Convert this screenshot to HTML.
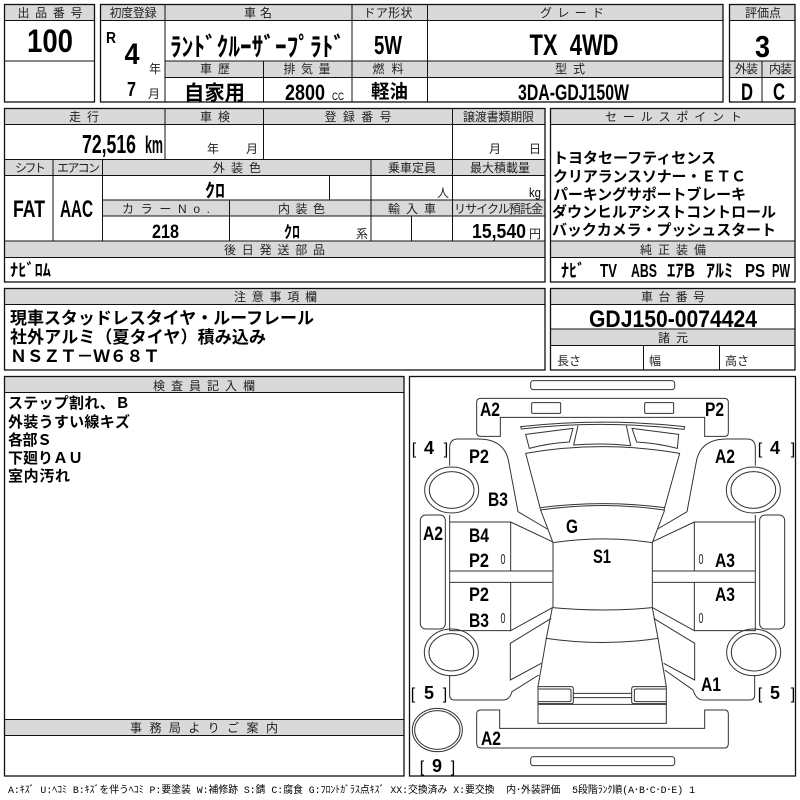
<!DOCTYPE html>
<html lang="ja"><head><meta charset="utf-8"><title>検査票</title>
<style>
html,body{margin:0;padding:0;background:#fff}
svg{display:block}
text{font-family:"Liberation Sans","Noto Sans CJK JP",sans-serif;fill:#000}
.h{font-size:12px;fill:#222;text-anchor:middle}
.c{text-anchor:middle;font-weight:700}
.b{font-weight:700}
.j{font-family:"Noto Sans CJK JP","Liberation Sans",sans-serif;font-weight:700}
.s{font-size:12px;fill:#222}
.l{font-size:19px;font-weight:700}
.t{font-size:15px;fill:#222}
.box{fill:none;stroke:#111;stroke-width:1.3}
.hd{fill:#d9d9d9}
.ln{stroke:#111;stroke-width:1;fill:none}
.car{fill:none;stroke:#333;stroke-width:3}
</style></head><body>
<svg width="800" height="800" viewBox="0 0 800 800" xmlns="http://www.w3.org/2000/svg">
<rect width="800" height="800" fill="#fff"/>
<!-- header fills -->
<g class="hd">
<rect x="5" y="5" width="89" height="15.5"/>
<rect x="101" y="5" width="622" height="15.5"/>
<rect x="165" y="61" width="558" height="16.5"/>
<rect x="730" y="5" width="65" height="15.5"/>
<rect x="730" y="61" width="65" height="16.5"/>
<rect x="5" y="109" width="540" height="15.5"/>
<rect x="5" y="159.5" width="540" height="16"/>
<rect x="103" y="200" width="442" height="16"/>
<rect x="5" y="241" width="540" height="16.5"/>
<rect x="551" y="109" width="244" height="15.5"/>
<rect x="551" y="241" width="244" height="16.5"/>
<rect x="5" y="289" width="540" height="15.5"/>
<rect x="551" y="289" width="244" height="15.5"/>
<rect x="551" y="329" width="244" height="16.5"/>
<rect x="5" y="376.5" width="399" height="16"/>
<rect x="5" y="719.5" width="399" height="16"/>
</g>
<!-- boxes -->
<rect class="box" x="4.5" y="4.5" width="90" height="97.5"/>
<rect class="box" x="100.5" y="4.5" width="622.5" height="97.5"/>
<rect class="box" x="729.5" y="4.5" width="65.5" height="97.5"/>
<rect class="box" x="4.5" y="108.5" width="540.5" height="173.5"/>
<rect class="box" x="550.5" y="108.5" width="244.5" height="173.5"/>
<rect class="box" x="4.5" y="288.5" width="540.5" height="81.5"/>
<rect class="box" x="550.5" y="288.5" width="244.5" height="81.5"/>
<rect class="box" x="4.5" y="376.5" width="399.5" height="399.5"/>
<rect class="box" x="409.5" y="376.5" width="386" height="399.5"/>
<path class="ln" d="M4.5 20.5H94.5M4.5 61H94.5
M100.5 20.5H723M165 61H723M165 77.5H723M165 4.5V102M352 4.5V102M427.5 4.5V102M263.5 61V102
M729.5 20.5H795M729.5 61H795M729.5 77.5H795M762 61V102
M4.5 124.5H545M165 108.5V159.5M263.5 108.5V159.5M452.5 108.5V241M4.5 159.5H545M4.5 175.5H545M53 159.5V241M102.5 159.5V241M371 159.5V241M329.5 175.5V200M102.5 200H545M102.5 216H545M229.5 200V241M411.5 216V241M4.5 241H545M4.5 257.5H545
M550.5 124.5H795M550.5 241H795M550.5 257.5H795
M4.5 304.5H545M550.5 304.5H795M550.5 329H795M550.5 345.5H795M643.5 345.5V370M719.5 345.5V370
M4.5 392.5H404M4.5 719.5H404M4.5 735.5H404"/>
<!-- row 1 -->
<text class="h" x="50" y="17" textLength="65">出品番号</text>
<text class="h" x="133" y="17" textLength="47">初度登録</text>
<text class="h" x="258" y="17" textLength="28">車名</text>
<text class="h" x="388" y="17" textLength="49">ドア形状</text>
<text class="h" x="572" y="17" textLength="64">グレード</text>
<text class="h" x="763" y="17" textLength="36">評価点</text>
<text class="h" x="215" y="73" textLength="30">車歴</text>
<text class="h" x="307" y="73" textLength="47">排気量</text>
<text class="h" x="388" y="73" textLength="31">燃料</text>
<text class="h" x="570" y="73" textLength="30">型式</text>
<text class="h" x="746.5" y="73" textLength="23">外装</text>
<text class="h" x="780.5" y="73" textLength="23">内装</text>
<text class="c" x="50" y="52" font-size="32" textLength="46" lengthAdjust="spacingAndGlyphs">100</text>
<text class="c" x="111" y="43" font-size="16" textLength="10" lengthAdjust="spacingAndGlyphs">R</text>
<text class="c" x="132" y="64" font-size="30" textLength="15" lengthAdjust="spacingAndGlyphs">4</text>
<text class="s" x="149" y="73">年</text>
<text class="c" x="131.5" y="96" font-size="20" textLength="9" lengthAdjust="spacingAndGlyphs">7</text>
<text class="s" x="148" y="98">月</text>
<text class="j" x="170" y="56" font-size="26" textLength="175" lengthAdjust="spacingAndGlyphs">ﾗﾝﾄﾞｸﾙｰｻﾞｰﾌﾟﾗﾄﾞ</text>
<text class="j" x="184" y="100" font-size="20.5" textLength="61" lengthAdjust="spacingAndGlyphs">自家用</text>
<text class="c" x="305" y="100" font-size="22" textLength="40" lengthAdjust="spacingAndGlyphs">2800</text>
<text x="332" y="100" font-size="11" fill="#222" textLength="12" lengthAdjust="spacingAndGlyphs">CC</text>
<text class="c" x="388" y="54" font-size="26" textLength="28" lengthAdjust="spacingAndGlyphs">5W</text>
<text class="j" x="371" y="98" font-size="18.5" textLength="37" lengthAdjust="spacingAndGlyphs">軽油</text>
<text class="c" x="574" y="55" font-size="30" textLength="89" lengthAdjust="spacingAndGlyphs">TX&#160;&#160;4WD</text>
<text class="c" x="573.5" y="100" font-size="22" textLength="111" lengthAdjust="spacingAndGlyphs">3DA-GDJ150W</text>
<text class="c" x="762.5" y="57" font-size="31" textLength="15" lengthAdjust="spacingAndGlyphs">3</text>
<text class="c" x="747" y="100" font-size="24" textLength="12" lengthAdjust="spacingAndGlyphs">D</text>
<text class="c" x="779" y="100" font-size="24" textLength="12" lengthAdjust="spacingAndGlyphs">C</text>
<!-- row 2 -->
<text class="h" x="84" y="121" textLength="30">走行</text>
<text class="h" x="215" y="121" textLength="30">車検</text>
<text class="h" x="358" y="121" textLength="67">登録番号</text>
<text class="h" x="498.5" y="121" textLength="71">譲渡書類期限</text>
<text class="b" x="82" y="153" font-size="26" textLength="54" lengthAdjust="spacingAndGlyphs">72,516</text>
<text class="b" x="145" y="153" font-size="24" textLength="18" lengthAdjust="spacingAndGlyphs">km</text>
<text class="s" x="207" y="153">年</text><text class="s" x="246" y="153">月</text>
<text class="s" x="489" y="153">月</text><text class="s" x="529" y="153">日</text>
<text class="h" x="30.5" y="172" textLength="31">シフト</text>
<text class="h" x="78.5" y="172" textLength="43">エアコン</text>
<text class="h" x="237" y="172" textLength="48">外装色</text>
<text class="h" x="412" y="172" textLength="48">乗車定員</text>
<text class="h" x="500" y="172" textLength="60">最大積載量</text>
<text class="j" x="205" y="197" font-size="19" textLength="20" lengthAdjust="spacingAndGlyphs">ｸﾛ</text>
<text class="s" x="437" y="197">人</text>
<text x="529" y="197" font-size="13" fill="#222" textLength="12" lengthAdjust="spacingAndGlyphs">kg</text>
<text class="c" x="29" y="217" font-size="24" textLength="32" lengthAdjust="spacingAndGlyphs">FAT</text>
<text class="c" x="76.5" y="217" font-size="24" textLength="33" lengthAdjust="spacingAndGlyphs">AAC</text>
<text class="h" x="166" y="213" textLength="88">カラーNo.</text>
<text class="h" x="301.5" y="213" textLength="47">内装色</text>
<text class="h" x="412" y="213" textLength="48">輸入車</text>
<text class="h" x="498.5" y="213" textLength="89">リサイクル預託金</text>
<text class="c" x="165.5" y="238" font-size="19" textLength="27" lengthAdjust="spacingAndGlyphs">218</text>
<text class="j" x="284" y="238" font-size="17" textLength="16" lengthAdjust="spacingAndGlyphs">ｸﾛ</text>
<text class="s" x="356" y="238">系</text>
<text class="b" x="472" y="238" font-size="20" textLength="54" lengthAdjust="spacingAndGlyphs">15,540</text>
<text class="s" x="529" y="238">円</text>
<text class="h" x="274.5" y="254" textLength="101">後日発送部品</text>
<text class="j" x="10" y="276" font-size="17" textLength="41" lengthAdjust="spacingAndGlyphs">ﾅﾋﾞﾛﾑ</text>
<!-- sales -->
<text class="h" x="673.5" y="121" textLength="137">セールスポイント</text>
<g class="j" font-size="15">
<text x="553" y="163" textLength="163">トヨタセーフティセンス</text>
<text x="553" y="181.5" textLength="193">クリアランスソナー・ＥＴＣ</text>
<text x="553" y="199.5" textLength="193">パーキングサポートブレーキ</text>
<text x="552" y="217" textLength="224">ダウンヒルアシストコントロール</text>
<text x="552" y="235" textLength="224">バックカメラ・プッシュスタート</text>
</g>
<text class="h" x="673" y="254" textLength="66">純正装備</text>
<g font-size="18">
<text class="j" x="561" y="277" textLength="24" lengthAdjust="spacingAndGlyphs">ﾅﾋﾞ</text>
<text class="b" x="600" y="277" textLength="17" lengthAdjust="spacingAndGlyphs">TV</text>
<text class="b" x="631" y="277" textLength="26" lengthAdjust="spacingAndGlyphs">ABS</text>
<text class="j" x="667" y="277" textLength="28" lengthAdjust="spacingAndGlyphs">ｴｱB</text>
<text class="j" x="706" y="277" textLength="27" lengthAdjust="spacingAndGlyphs">ｱﾙﾐ</text>
<text class="b" x="745" y="277" textLength="20" lengthAdjust="spacingAndGlyphs">PS</text>
<text class="b" x="772" y="277" textLength="18" lengthAdjust="spacingAndGlyphs">PW</text>
</g>
<!-- notes -->
<text class="h" x="275.5" y="301" textLength="83">注意事項欄</text>
<g class="j" font-size="17">
<text x="10" y="324" textLength="304">現車スタッドレスタイヤ・ルーフレール</text>
<text x="10" y="343" textLength="256">社外アルミ（夏タイヤ）積み込み</text>
<text x="10" y="362" textLength="150">ＮＳＺＴ－Ｗ６８Ｔ</text>
</g>
<text class="h" x="673" y="301" textLength="64">車台番号</text>
<text class="c" x="673" y="327" font-size="24" textLength="168" lengthAdjust="spacingAndGlyphs">GDJ150-0074424</text>
<text class="h" x="673" y="342" textLength="30">諸元</text>
<text class="s" x="557" y="365">長さ</text><text class="s" x="649" y="365">幅</text><text class="s" x="725" y="365">高さ</text>
<text class="h" x="204" y="390" textLength="102">検査員記入欄</text>
<g class="j" font-size="15">
<text x="8" y="408" textLength="122">ステップ割れ、Ｂ</text>
<text x="8" y="427" textLength="122">外装うすい線キズ</text>
<text x="8" y="445" textLength="44">各部Ｓ</text>
<text x="8" y="463" textLength="75">下廻りＡＵ</text>
<text x="8" y="481" textLength="62">室内汚れ</text>
</g>
<text class="h" x="204" y="732" textLength="148" font-size="13">事務局よりご案内</text>
<text x="8" y="793" font-size="10" fill="#222" textLength="687" lengthAdjust="spacingAndGlyphs" style="font-family:'Liberation Mono','Noto Sans CJK JP',monospace">A:ｷｽﾞ U:ﾍｺﾐ B:ｷｽﾞを伴うﾍｺﾐ P:要塗装 W:補修跡 S:錆 C:腐食 G:ﾌﾛﾝﾄｶﾞﾗｽ点ｷｽﾞ XX:交換済み X:要交換&#160;&#160;内･外装評価&#160;&#160;5段階ﾗﾝｸ順(A･B･C･D･E) 1</text>
<!-- car diagram -->
<g transform="translate(408,375) scale(.33333)" class="car">
<rect x="368" y="17" width="432" height="27" rx="8"/>
<rect x="368" y="1145" width="432" height="27" rx="8"/>
<path d="M275 184H218Q206 184 206 172V82Q206 70 218 70H950Q961 70 961 82V172Q961 184 950 184H890V127H277V184Z"/>
<rect x="371" y="83" width="87" height="32" rx="3"/><rect x="710" y="83" width="87" height="32" rx="3"/>
<path d="M338 155Q585 128 830 155L828 163Q585 134 340 162Z"/>
<path d="M353 178L495 160L484 201Q420 205 364 220Z"/>
<path d="M812 178L672 160L686 201Q750 205 808 220Z"/>
<path d="M510 152L497 210Q585 203 668 212L655 152"/>
<path d="M353 235Q585 195 815 235L768 405Q585 378 398 405Z"/>
<path d="M398 398Q585 374 770 398"/>
<path d="M398 405L435 503Q585 480 733 503L770 405"/>
<path d="M435 503V698M733 503V698"/>
<!-- fenders -->
<path d="M125 272V218Q125 192 150 192H210Q290 192 302 260L330 410L418 462"/>
<path d="M1042 272V218Q1042 192 1017 192H957Q877 192 865 260L837 410L749 462"/>
<!-- wheels -->
<ellipse cx="131" cy="345" rx="81" ry="69"/><ellipse cx="131" cy="345" rx="67" ry="55"/>
<ellipse cx="1036" cy="345" rx="81" ry="69"/><ellipse cx="1036" cy="345" rx="67" ry="55"/>
<ellipse cx="130" cy="832" rx="81" ry="70"/><ellipse cx="130" cy="832" rx="67" ry="56"/>
<ellipse cx="1037" cy="832" rx="81" ry="70"/><ellipse cx="1037" cy="832" rx="67" ry="56"/>
<ellipse cx="88" cy="1065" rx="75" ry="65"/><ellipse cx="88" cy="1065" rx="68" ry="58"/>
<!-- steps -->
<rect x="37" y="420" width="75" height="342" rx="16"/>
<rect x="1055" y="420" width="75" height="342" rx="16"/>
<!-- doors -->
<path d="M125 420V767H308M125 441H308V588M125 588H433M125 622H433M308 622V767L433 698M308 441L433 500"/>
<path d="M1042 420V767H859M1042 441H859V588M1042 588H734M1042 622H734M859 622V767L734 698M859 441L734 500"/>
<!-- rear -->
<path d="M433 698Q585 712 733 698"/>
<path d="M433 698L415 790L390 935V1045H775V935L750 790L733 698"/>
<path d="M415 790Q585 815 750 790"/>
<path d="M430 730L307 805V915L400 865"/>
<path d="M737 730L860 805V915L767 865"/>
<path d="M125 900V960Q125 975 140 975H285Q305 975 312 950L392 900"/>
<path d="M1040 900V960Q1040 975 1025 975H885Q865 975 855 945L770 885"/>
<path d="M390 935H490Q496 935 496 942V980Q496 986 490 986H390M390 942H484Q489 942 489 947V975Q489 980 484 980H390"/>
<path d="M775 935H678Q671 935 671 942V980Q671 986 678 986H775M775 942H684Q679 942 679 947V975Q679 980 684 980H775"/>
<path d="M496 955H671M496 968H671M390 988H775"/>
<path d="M275 1005V1060H890V1005H950Q961 1005 961 1017V1105Q961 1119 950 1119H220Q206 1119 206 1105V1017Q206 1005 218 1005Z"/>
</g>
<!-- labels -->
<text class="l" x="480" y="416" textLength="20" lengthAdjust="spacingAndGlyphs">A2</text>
<text class="l" x="705" y="416" textLength="19" lengthAdjust="spacingAndGlyphs">P2</text>
<text class="l" x="469" y="463" textLength="20" lengthAdjust="spacingAndGlyphs">P2</text>
<text class="l" x="715" y="463" textLength="20" lengthAdjust="spacingAndGlyphs">A2</text>
<text class="l" x="488" y="506" textLength="20" lengthAdjust="spacingAndGlyphs">B3</text>
<text class="l" x="566" y="533" textLength="12" lengthAdjust="spacingAndGlyphs">G</text>
<text class="l" x="593" y="563" textLength="18" lengthAdjust="spacingAndGlyphs">S1</text>
<text class="l" x="423" y="540" textLength="20" lengthAdjust="spacingAndGlyphs">A2</text>
<text class="l" x="469" y="542" textLength="20" lengthAdjust="spacingAndGlyphs">B4</text>
<text class="l" x="469" y="567" textLength="20" lengthAdjust="spacingAndGlyphs">P2</text>
<text class="l" x="715" y="567" textLength="20" lengthAdjust="spacingAndGlyphs">A3</text>
<text class="l" x="469" y="601" textLength="20" lengthAdjust="spacingAndGlyphs">P2</text>
<text class="l" x="715" y="601" textLength="20" lengthAdjust="spacingAndGlyphs">A3</text>
<text class="l" x="469" y="627" textLength="20" lengthAdjust="spacingAndGlyphs">B3</text>
<text class="l" x="701" y="691" textLength="20" lengthAdjust="spacingAndGlyphs">A1</text>
<text class="l" x="481" y="745" textLength="20" lengthAdjust="spacingAndGlyphs">A2</text>
<g class="t" text-anchor="middle">
<text class="t" x="503" y="564" textLength="5" lengthAdjust="spacingAndGlyphs">0</text>
<text class="t" x="701" y="564" textLength="5" lengthAdjust="spacingAndGlyphs">0</text>
<text class="t" x="503" y="623" textLength="5" lengthAdjust="spacingAndGlyphs">0</text>
<text class="t" x="701" y="623" textLength="5" lengthAdjust="spacingAndGlyphs">0</text>
</g>
<g font-size="16" fill="#333" text-anchor="middle" style="font-family:'Liberation Sans',sans-serif">
<text x="414" y="454">[</text><text x="446" y="454">]</text>
<text x="760" y="454">[</text><text x="793" y="454">]</text>
<text x="413" y="699">[</text><text x="445" y="699">]</text>
<text x="760" y="699">[</text><text x="793" y="699">]</text>
<text x="422" y="772">[</text><text x="453" y="772">]</text>
</g>
<g class="c" font-size="18">
<text x="429" y="454">4</text><text x="775" y="454">4</text>
<text x="429" y="699">5</text><text x="775" y="699">5</text>
<text x="437" y="772">9</text>
</g>
</svg>
</body></html>
